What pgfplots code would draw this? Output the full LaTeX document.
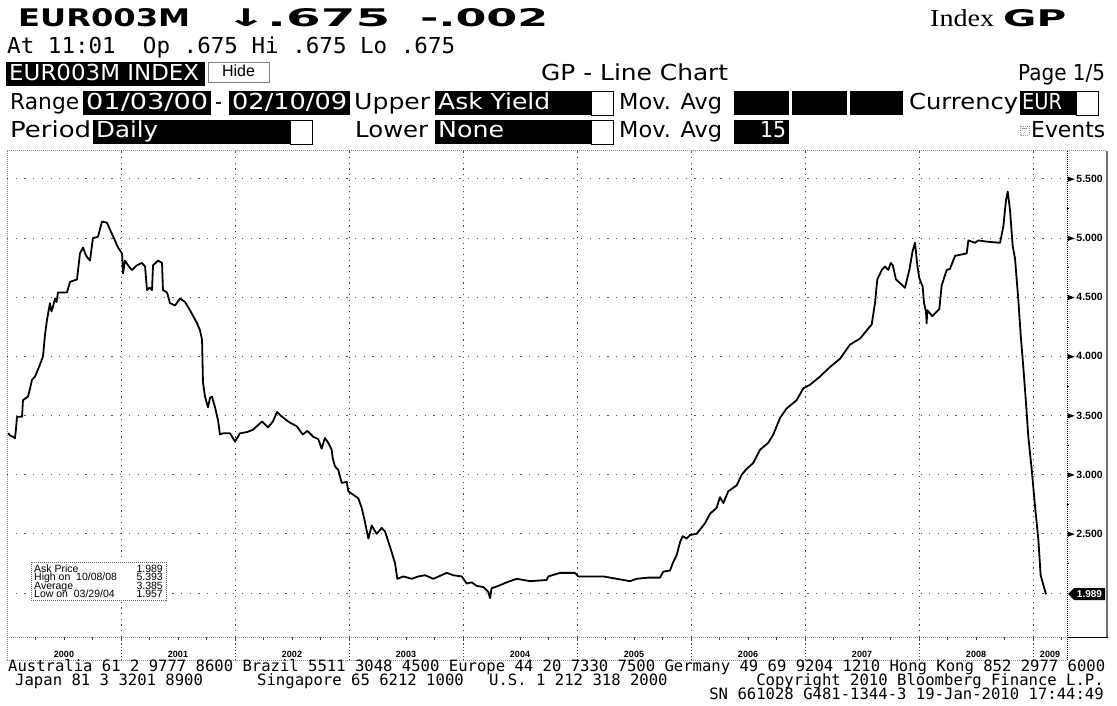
\documentclass[border=0pt]{standalone}
\usepackage{fontspec}
\setmainfont{DejaVu Sans}
\newfontfamily\mono{DejaVu Sans Mono}
\newfontfamily\arial{Liberation Sans}
\newfontfamily\serif{Liberation Serif}
\usepackage{graphicx}
\usepackage{pgfplots}
\pgfplotsset{compat=1.18}
\newcommand\fs[1]{\fontsize{#1pt}{#1pt}\selectfont}
\newcommand\uif{\fs{22}}
% text node, base west, fitted horizontally to a width
\newcommand\T[4][]{\node[anchor=base west,inner sep=0pt,#1] at (#2) {\resizebox{#3pt}{\height}{#4}};}
\newcommand\mk{\tikz[baseline=-0.6ex]\fill (0pt,2.6pt)--(7pt,0pt)--(0pt,-2.6pt)--cycle;}
\begin{document}
\begin{tikzpicture}
\begin{scope}[x=1pt,y=1pt]
\path[fill=white,use as bounding box] (0,0) rectangle (1117,-706);

% ---------- header ----------
\node[anchor=base west,inner sep=0pt] at (18,-27) {\resizebox{172pt}{18pt}{\bfseries EUR003M}};
\node[anchor=base west,inner sep=0pt] at (225,-27) {\resizebox{165pt}{18pt}{\bfseries ↓.675}};
\node[anchor=base west,inner sep=0pt] at (420,-27) {\resizebox{128pt}{18pt}{\bfseries -.002}};
\node[anchor=base west,inner sep=0pt] at (930,-27) {\resizebox{64pt}{17pt}{\serif Index}};
\node[anchor=base west,inner sep=0pt] at (1003,-27) {\resizebox{63pt}{17pt}{\bfseries GP}};
\T{7,-54}{448}{\mono\fs{22}At 11:01\ \ Op .675 Hi .675 Lo .675}

% row 3
\fill (6,-62) rectangle (205,-86);
\T[text=white]{9,-81}{190}{\uif EUR003M INDEX}
\draw[black!50,fill=white,line width=0.8pt] (208,-62) rectangle (269,-82);
\node[anchor=base,inner sep=0pt] at (238.5,-77) {\arial\fs{16}Hide};
\T{541,-81}{187}{\uif GP - Line Chart}
\T{1018,-81}{87}{\uif Page 1/5}

% row 4
\T{10,-110}{69}{\uif Range}
\fill (83,-91) rectangle (211,-115);
\T[text=white]{86,-110}{122}{\uif 01/03/00}
\T{215,-110}{7}{\uif -}
\fill (229,-91) rectangle (350,-115);
\T[text=white]{232,-110}{115}{\uif 02/10/09}
\T{354,-110}{76}{\uif Upper}
\fill (435,-91) rectangle (591,-115);
\T[text=white]{438,-110}{112}{\uif Ask Yield}
\draw[fill=white,line width=0.8pt] (591,-91) rectangle (613,-115);
\T{619,-110}{103}{\uif Mov. Avg}
\fill (734,-91) rectangle (789,-115);
\fill (792,-91) rectangle (847,-115);
\fill (850,-91) rectangle (903,-115);
\T{909,-110}{109}{\uif Currency}
\fill (1020,-91) rectangle (1076,-115);
\T[text=white]{1022,-110}{40}{\uif EUR}
\draw[fill=white,line width=0.8pt] (1076,-91) rectangle (1098,-115);

% row 5
\T{10,-138}{81}{\uif Period}
\fill (93,-120) rectangle (290,-144);
\T[text=white]{96,-138}{62}{\uif Daily}
\draw[fill=white,line width=0.8pt] (290,-120) rectangle (312,-144);
\T{355,-138}{73}{\uif Lower}
\fill (435,-120) rectangle (591,-144);
\T[text=white]{438,-138}{66}{\uif None}
\draw[fill=white,line width=0.8pt] (591,-120) rectangle (613,-144);
\T{619,-138}{103}{\uif Mov. Avg}
\fill (734,-120) rectangle (789,-144);
\T[text=white]{760,-138}{26}{\uif 15}
\draw[black!40,line width=0.6pt,dash pattern=on 1pt off 1pt] (1020,-126) rectangle (1029,-135);
\draw[black!40,line width=0.6pt] (1022,-128) -- (1027,-128);
\T{1031,-138}{74}{\uif Events}
\end{scope}

% ---------- chart ----------
\begin{axis}[
  at={(7pt,-637pt)}, anchor=south west,
  width=1060pt, height=486pt, scale only axis,
  xmin=2000.0, xmax=2009.2982, ymin=1.628, ymax=5.736,
  axis line style={draw=none},
  major tick length=0pt, minor tick length=0pt,
  xtick={2001,2002,2003,2004,2005,2006,2007,2008,2009},
  xticklabel={\relax},
  ytick={2,2.5,3,3.5,4,4.5,5,5.5},
  yticklabel pos=right,
  yticklabels={{},{\mk\,2.500},{\mk\,3.000},{\mk\,3.500},{\mk\,4.000},{\mk\,4.500},{\mk\,5.000},{\mk\,5.500}},
  yticklabel style={font=\arial\bfseries\fs{10.5}, anchor=west, inner sep=0pt, xshift=0.5pt},
  xmajorgrids, ymajorgrids,
  x grid style={black!75, line width=0.7pt, dash pattern=on 1.2pt off 4.5pt},
  y grid style={black!65, line width=0.9pt, dash pattern=on 1.2pt off 7.5pt},
  clip=false,
]
\addplot[black, line width=1.8pt, line join=round] coordinates {
(2000.009,3.35) (2000.030,3.33) (2000.053,3.32) (2000.070,3.31) (2000.080,3.40)
(2000.088,3.49) (2000.132,3.49) (2000.140,3.63) (2000.184,3.66) (2000.200,3.72)
(2000.219,3.80) (2000.246,3.83) (2000.289,3.93) (2000.316,4.00) (2000.333,4.18)
(2000.351,4.31) (2000.377,4.45) (2000.390,4.38) (2000.404,4.42) (2000.421,4.49)
(2000.435,4.46) (2000.447,4.54) (2000.491,4.54) (2000.526,4.54) (2000.553,4.63)
(2000.614,4.65) (2000.640,4.87) (2000.667,4.92) (2000.690,4.86) (2000.702,4.84)
(2000.728,4.81) (2000.754,5.00) (2000.798,5.01) (2000.833,5.14) (2000.877,5.13)
(2000.904,5.07) (2000.947,4.98) (2000.974,4.92) (2001.009,4.87) (2001.018,4.70)
(2001.035,4.81) (2001.061,4.77) (2001.096,4.73) (2001.140,4.77) (2001.184,4.79)
(2001.211,4.76) (2001.228,4.56) (2001.250,4.58) (2001.272,4.56) (2001.281,4.77)
(2001.325,4.81) (2001.360,4.79) (2001.368,4.56) (2001.404,4.54) (2001.430,4.45)
(2001.474,4.43) (2001.518,4.49) (2001.561,4.46) (2001.605,4.39) (2001.667,4.28)
(2001.693,4.22) (2001.711,4.14) (2001.719,3.78) (2001.737,3.66) (2001.763,3.57)
(2001.781,3.65) (2001.798,3.66) (2001.825,3.57) (2001.851,3.46) (2001.868,3.34)
(2001.895,3.35) (2001.956,3.35) (2002.000,3.28) (2002.044,3.35) (2002.105,3.36)
(2002.158,3.38) (2002.237,3.45) (2002.289,3.40) (2002.333,3.45) (2002.368,3.53)
(2002.412,3.49) (2002.482,3.44) (2002.541,3.41) (2002.594,3.34) (2002.635,3.37)
(2002.687,3.32) (2002.731,3.30) (2002.760,3.22) (2002.789,3.31) (2002.818,3.27)
(2002.848,3.21) (2002.857,3.14) (2002.877,3.07) (2002.906,3.04) (2002.936,2.93)
(2002.980,2.94) (2002.994,2.86) (2003.038,2.83) (2003.082,2.80) (2003.111,2.72)
(2003.140,2.60) (2003.170,2.46) (2003.199,2.57) (2003.243,2.50) (2003.287,2.55)
(2003.316,2.52) (2003.360,2.39) (2003.404,2.25) (2003.424,2.12) (2003.477,2.14)
(2003.550,2.12) (2003.608,2.14) (2003.667,2.15) (2003.740,2.12) (2003.857,2.17)
(2003.915,2.15) (2003.989,2.14) (2004.032,2.08) (2004.076,2.09) (2004.120,2.06)
(2004.178,2.05) (2004.222,2.01) (2004.237,1.957) (2004.251,2.04) (2004.310,2.06)
(2004.383,2.09) (2004.471,2.12) (2004.588,2.10) (2004.734,2.11) (2004.748,2.14)
(2004.851,2.17) (2004.982,2.17) (2005.012,2.14) (2005.231,2.14) (2005.348,2.12)
(2005.465,2.10) (2005.524,2.12) (2005.625,2.13) (2005.728,2.13) (2005.757,2.18)
(2005.816,2.19) (2005.839,2.25) (2005.874,2.32) (2005.904,2.43) (2005.927,2.48)
(2005.962,2.46) (2005.991,2.49) (2006.050,2.50) (2006.123,2.59) (2006.167,2.67)
(2006.225,2.72) (2006.254,2.81) (2006.284,2.76) (2006.327,2.86) (2006.401,2.91)
(2006.445,3.00) (2006.489,3.05) (2006.547,3.10) (2006.605,3.21) (2006.678,3.27)
(2006.722,3.34) (2006.781,3.48) (2006.839,3.56) (2006.927,3.63) (2006.985,3.73)
(2007.044,3.76) (2007.132,3.83) (2007.219,3.91) (2007.307,3.98) (2007.395,4.10)
(2007.482,4.15) (2007.585,4.27) (2007.614,4.45) (2007.634,4.65) (2007.673,4.73)
(2007.702,4.76) (2007.731,4.73) (2007.752,4.79) (2007.770,4.77) (2007.798,4.65)
(2007.833,4.62) (2007.877,4.58) (2007.915,4.73) (2007.944,4.89) (2007.965,4.96)
(2007.985,4.77) (2008.003,4.66) (2008.032,4.59) (2008.044,4.45) (2008.061,4.38)
(2008.067,4.28) (2008.073,4.39) (2008.117,4.34) (2008.178,4.40) (2008.199,4.60)
(2008.243,4.73) (2008.272,4.74) (2008.316,4.85) (2008.418,4.87) (2008.433,4.98)
(2008.491,4.96) (2008.521,4.98) (2008.594,4.97) (2008.711,4.96) (2008.740,5.10)
(2008.763,5.32) (2008.778,5.393) (2008.798,5.24) (2008.822,4.93) (2008.842,4.83)
(2008.871,4.48) (2008.892,4.18) (2008.915,3.91) (2008.939,3.60) (2008.959,3.32)
(2008.989,3.04) (2009.018,2.73) (2009.047,2.45) (2009.067,2.15) (2009.090,2.07)
(2009.114,1.989)
};
\pgfplotsinvokeforeach{2.25,2.75,3.25,3.75,4.25,4.75,5.25}{
  \draw[black,line width=0.6pt] (axis cs:2009.2982,#1) -- ++(2pt,0pt);
}
\end{axis}

\begin{scope}[x=1pt,y=1pt]
% ---------- frame ----------
\draw[black!45,line width=1pt,dash pattern=on 1pt off 1pt] (7,-151) -- (1107,-151);
\draw[black!45,line width=1pt,dash pattern=on 1pt off 1pt] (7,-151) -- (7,-660);
\draw[black!55,line width=2.5pt] (1107,-151) -- (1107,-637);
\draw[black,line width=0.8pt,dash pattern=on 1pt off 1pt] (1067,-151) -- (1067,-660);
\draw[black!45,line width=1pt,dash pattern=on 1pt off 1pt] (7,-637) -- (1067,-637);
\draw[black,line width=1pt] (1067,-637) -- (1108,-637);
\draw[black!45,line width=1pt,dash pattern=on 1pt off 1pt] (7,-660) -- (1067,-660);
\foreach \i in {1,...,9} \draw[black!75,line width=0.7pt,dash pattern=on 1.2pt off 2pt] ({7+114*\i},-637) -- ({7+114*\i},-660);
\foreach \i in {1,...,37} \draw[black!70,line width=0.6pt] ({7+28.5*\i},-637) -- ({7+28.5*\i},-640);
\foreach \y [count=\k from 0] in {2000,...,2008} \node[anchor=base,inner sep=0pt] at ({64+114*\k},-657) {\arial\bfseries\fs{9}\y};
\node[anchor=base,inner sep=0pt] at (1050,-657) {\arial\bfseries\fs{9}2009};

% last value box
\fill (1068,-594) -- (1074,-588) -- (1105,-588) -- (1105,-600) -- (1074,-600) -- cycle;
\node[text=white,inner sep=0pt] at (1089.5,-594) {\arial\bfseries\fs{10}1.989};

% stats box
\draw[black!60,fill=white,line width=0.7pt,dash pattern=on 1pt off 1pt] (31,-562) rectangle (166,-600);
\node[anchor=base west,inner sep=0pt,font=\arial\fs{10.5}] at (34,-572) {Ask Price};
\node[anchor=base east,inner sep=0pt,font=\arial\fs{10.5}] at (163,-572) {1.989};
\node[anchor=base west,inner sep=0pt,font=\arial\fs{10.5}] at (34,-580.5) {High on \ 10/08/08};
\node[anchor=base east,inner sep=0pt,font=\arial\fs{10.5}] at (163,-580.5) {5.393};
\node[anchor=base west,inner sep=0pt,font=\arial\fs{10.5}] at (34,-589) {Average};
\node[anchor=base east,inner sep=0pt,font=\arial\fs{10.5}] at (163,-589) {3.385};
\node[anchor=base west,inner sep=0pt,font=\arial\fs{10.5}] at (34,-597.5) {Low on \ 03/29/04};
\node[anchor=base east,inner sep=0pt,font=\arial\fs{10.5}] at (163,-597.5) {1.957};

% ---------- footer ----------
\T{8,-671}{1097}{\mono\fs{15.6}Australia 61 2 9777 8600 Brazil 5511 3048 4500 Europe 44 20 7330 7500 Germany 49 69 9204 1210 Hong Kong 852 2977 6000}
\node[anchor=base west,inner sep=0pt] at (15,-685) {\mono\fs{15.6}Japan 81 3 3201 8900};
\node[anchor=base west,inner sep=0pt] at (257,-685) {\mono\fs{15.6}Singapore 65 6212 1000};
\node[anchor=base west,inner sep=0pt] at (489,-685) {\mono\fs{15.6}U.S. 1 212 318 2000};
\node[anchor=base east,inner sep=0pt] at (1104,-685) {\mono\fs{15.6}Copyright 2010 Bloomberg Finance L.P.};
\node[anchor=base east,inner sep=0pt] at (1104,-699) {\mono\fs{15.6}SN 661028 G481-1344-3 19-Jan-2010 17:44:49};
\end{scope}
\end{tikzpicture}
\end{document}
